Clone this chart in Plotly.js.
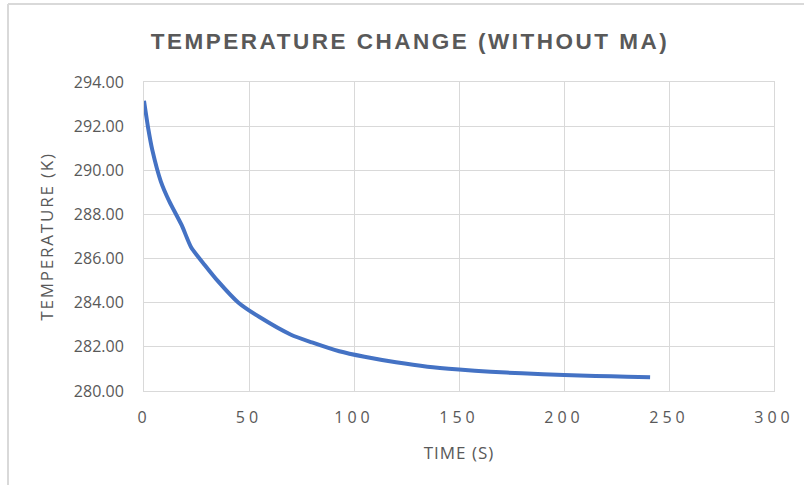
<!DOCTYPE html>
<html>
<head>
<meta charset="utf-8">
<script src="https://cdn.plot.ly/plotly-3.0.1.min.js"></script>
<style>
html,body{margin:0;padding:0;background:#fff;}
#chart{width:804px;height:485px;}
.xtick text{letter-spacing:4px;}
.gtitle{letter-spacing:2.5px;}
.ytitle{letter-spacing:1.8px;}
.xtitle{letter-spacing:1px;}
</style>
</head>
<body>
<div id="chart"></div>
<script>
const timeS = [0, 2, 4, 8, 12, 18, 22.5, 29, 35, 45, 55, 70, 80, 93, 105, 120, 135, 150, 165, 180, 200, 215, 230, 241];
const tempK = [293.15, 291.9, 290.9, 289.5, 288.6, 287.5, 286.5, 285.7, 285.0, 284.0, 283.35, 282.55, 282.2, 281.8, 281.55, 281.3, 281.1, 280.97, 280.87, 280.8, 280.73, 280.68, 280.65, 280.62];
const xTicks = [0, 50, 100, 150, 200, 250, 300];
const yTicks = [280, 282, 284, 286, 288, 290, 292, 294];

const grey = '#595959';
const fontFam = '"Open Sans", Arial, sans-serif';

const trace = {
  x: timeS, y: tempK, type: 'scatter', mode: 'lines',
  line: {color: '#4472C4', width: 4, shape: 'spline', smoothing: 0.6}, showlegend: false
};

const layout = {
  width: 804, height: 485,
  margin: {l: 144, r: 30, t: 82, b: 94},
  paper_bgcolor: '#ffffff', plot_bgcolor: '#ffffff',
  font: {family: fontFam, color: grey},
  title: {
    text: 'TEMPERATURE CHANGE (WITHOUT MA)',
    font: {family: '"Liberation Sans", Arial, sans-serif', size: 22.5, color: grey, weight: 'bold'},
    x: (410 - 144) / 630, xref: 'paper', xanchor: 'center',
    y: 1 - 41/485, yref: 'container', yanchor: 'middle'
  },
  xaxis: {
    range: [0, 300], tickvals: xTicks, ticktext: xTicks.map(String),
    showgrid: true, gridcolor: '#d9d9d9', gridwidth: 1,
    showline: true, linecolor: '#d9d9d9', linewidth: 1, mirror: true,
    zeroline: false, ticks: '', ticklabelstandoff: 12,
    tickfont: {family: fontFam, size: 16, color: grey},
    title: {text: 'TIME (S)', font: {family: fontFam, size: 17, color: grey}, standoff: 19}
  },
  yaxis: {
    range: [280, 294], tickvals: yTicks, tickformat: '.2f',
    showgrid: true, gridcolor: '#d9d9d9', gridwidth: 1,
    showline: true, linecolor: '#d9d9d9', linewidth: 1, mirror: true,
    zeroline: false, ticks: '', ticklabelstandoff: 16,
    tickfont: {family: fontFam, size: 16, color: grey},
    title: {text: 'TEMPERATURE (K)', font: {family: fontFam, size: 17, color: grey}, standoff: 15}
  },
  shapes: [
    {type: 'line', xref: 'paper', yref: 'paper', x0: (8-144)/630, x1: (8-144)/630, y0: (391-4)/309, y1: -0.4, line: {color: '#d9d9d9', width: 2}},
    {type: 'line', xref: 'paper', yref: 'paper', x0: (8-144)/630, x1: 1.1, y0: (391-4)/309, y1: (391-4)/309, line: {color: '#d9d9d9', width: 2}}
  ]
};

Plotly.newPlot('chart', [trace], layout, {displayModeBar: false, staticPlot: true});
</script>
</body>
</html>
